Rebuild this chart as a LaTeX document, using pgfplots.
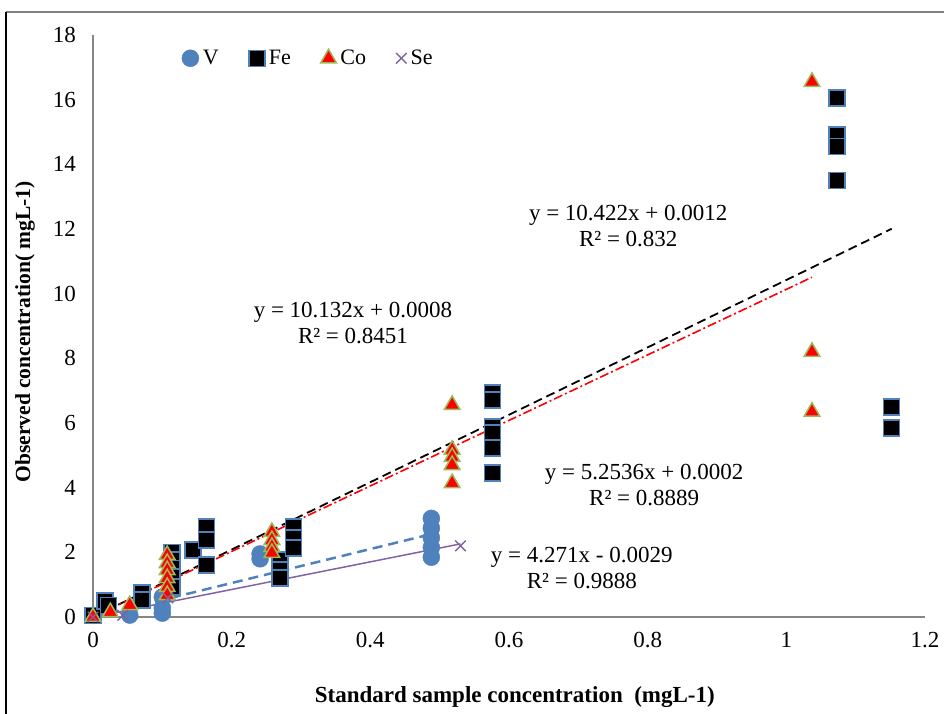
\documentclass[border=0pt]{standalone}
\usepackage{pgfplots}
\pgfplotsset{compat=1.18}
\usepackage{fontspec}
\setmainfont{Liberation Serif}
\definecolor{vblue}{HTML}{4F81BD}
\definecolor{cogreen}{HTML}{9BBB59}
\definecolor{sepurple}{HTML}{8064A2}
\definecolor{axgray}{HTML}{868686}
\begin{document}
\begin{tikzpicture}
\useasboundingbox (0,0) rectangle (944pt,714pt);
% outer frame (cut off at right/bottom)
\draw[line width=2.5pt, color=gray] (6pt,702pt) -- (944pt,702pt);
\draw[line width=2pt, color=black] (6pt,702pt) -- (6pt,0pt);
\begin{axis}[
    at={(93pt,97pt)}, anchor=south west,
    scale only axis,
    width=832pt, height=582pt,
    xmin=0, xmax=1.2, ymin=0, ymax=18,
    xtick={0,0.2,...,1.2}, ytick={0,2,...,18},
    axis lines=left,
    axis line style={-, color=axgray, line width=1.2pt},
    major tick length=0pt,
    /pgf/number format/assume math mode=true,
    tick label style={font=\fontsize{23}{27}\selectfont, inner sep=0pt},
    yticklabel style={xshift=-17pt},
    xticklabel style={yshift=-15pt},
    xlabel={Standard sample concentration\ \ (mgL-1)},
    ylabel={Observed concentration( mgL-1)},
    xlabel style={font=\bfseries\fontsize{23}{27}\selectfont, at={(rel axis cs:0.507,-0.1375)}, anchor=center},
    ylabel style={font=\bfseries\fontsize{21.5}{25}\selectfont, at={(rel axis cs:-0.0817,0.49)}, anchor=center},
    clip=false,
    legend columns=4,
    legend style={draw=none, fill=none, at={(rel axis cs:0.103,0.96)}, anchor=west,
        font=\fontsize{22}{26}\selectfont, column sep=2pt,
        /tikz/every even column/.append style={column sep=28pt}},
    legend cell align=left,
]
% V
\addplot[only marks, mark=*, mark size=8.5pt, color=vblue] coordinates {
    (0,0.05) (0.053,0.06) (0.1,0.12) (0.1,0.28) (0.1,0.62)
    (0.241,1.8) (0.241,1.95)
    (0.488,1.85) (0.488,2.15) (0.488,2.45) (0.488,2.75) (0.488,3.05)
};
\addlegendentry{V}
% Fe
\addplot[only marks, mark=square*, mark size=8pt,
    mark options={fill=black, draw=vblue, line width=1.5pt}] coordinates {
    (0,0.05) (0.017,0.5) (0.022,0.35)
    (0.071,0.74) (0.071,0.53)
    (0.114,2.0) (0.114,1.76) (0.114,1.5) (0.114,1.24) (0.114,0.93)
    (0.144,2.07)
    (0.164,2.79) (0.164,2.38) (0.164,1.61)
    (0.27,1.76) (0.27,1.45) (0.27,1.2)
    (0.289,2.79) (0.289,2.44) (0.289,2.13)
    (0.576,6.93) (0.576,6.71) (0.576,5.88) (0.576,5.69) (0.576,5.23) (0.576,4.45)
    (1.073,16.05) (1.073,14.9) (1.073,14.55) (1.073,13.5)
    (1.152,6.5) (1.152,5.85)
};
\addlegendentry{Fe}
% Co
\addplot[only marks, mark=triangle*, mark size=9pt,
    mark options={fill=red, draw=cogreen, line width=1.5pt}] coordinates {
    (0,0) (0.025,0.15) (0.053,0.37)
    (0.107,1.92) (0.107,1.67) (0.107,1.45) (0.107,1.2) (0.107,0.93) (0.107,0.68)
    (0.258,2.63) (0.258,2.38) (0.258,2.17) (0.258,1.98)
    (0.518,6.56) (0.518,5.17) (0.518,4.95) (0.518,4.7) (0.518,4.14)
    (1.037,16.55) (1.037,8.2) (1.037,6.35)
};
\addlegendentry{Co}
% Se
\addplot[only marks, mark=x, mark size=7.5pt, color=sepurple,
    mark options={line width=1.4pt}] coordinates {
    (0,0) (0.043,0.05) (0.108,0.59) (0.53,2.2)
};
\addlegendentry{Se}
% trendlines
\addplot[forget plot, black, line width=1.8pt, dash pattern=on 9pt off 5pt] coordinates {(0,0.0012) (1.152,12.007)};
\addplot[forget plot, red, line width=1.6pt, dash pattern=on 9pt off 3pt on 2pt off 3pt] coordinates {(0,0.0008) (1.037,10.508)};
\addplot[forget plot, vblue, line width=2.5pt, dash pattern=on 10pt off 6pt] coordinates {(0,0.0002) (0.488,2.564)};
\addplot[forget plot, sepurple, line width=1.5pt] coordinates {(0,-0.0029) (0.53,2.261)};
% equations
\node[align=center, font=\fontsize{23}{26}\selectfont] at (axis cs:0.772,12.09) {y = 10.422x + 0.0012\\R² = 0.832};
\node[align=center, font=\fontsize{23}{26}\selectfont] at (axis cs:0.375,9.09) {y = 10.132x + 0.0008\\R² = 0.8451};
\node[align=center, font=\fontsize{23}{26}\selectfont] at (axis cs:0.795,4.08) {y = 5.2536x + 0.0002\\R² = 0.8889};
\node[align=center, font=\fontsize{23}{26}\selectfont] at (axis cs:0.705,1.52) {y = 4.271x - 0.0029\\R² = 0.9888};
\end{axis}
\end{tikzpicture}
\end{document}
